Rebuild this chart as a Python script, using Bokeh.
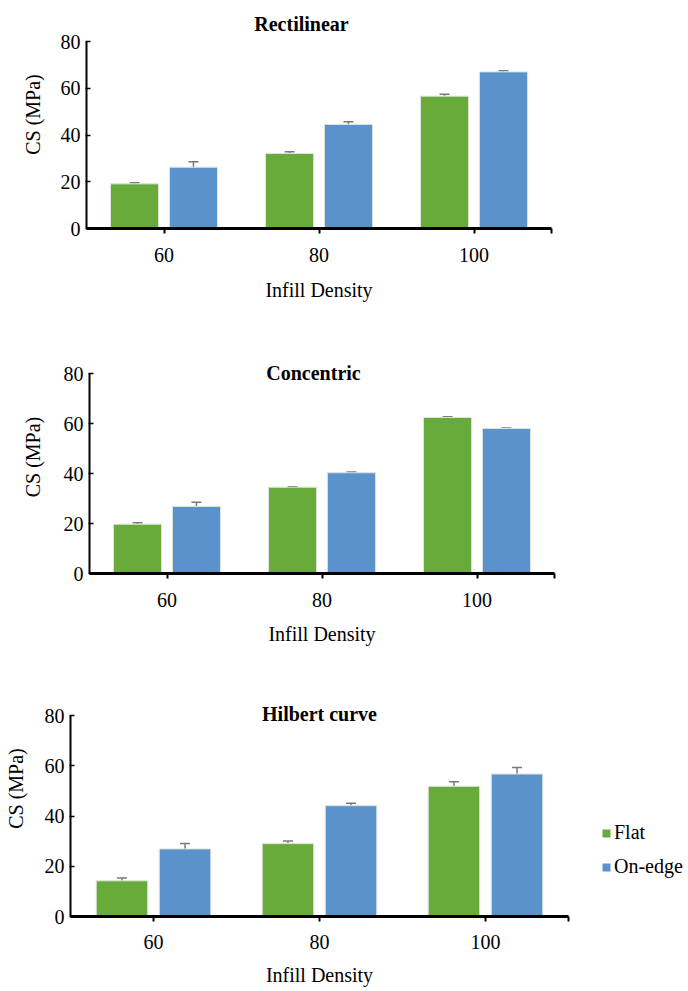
import numpy as np
from bokeh.plotting import figure
from bokeh.layouts import row
from bokeh.models import (ColumnDataSource, Whisker, TeeHead, Label, Legend,
                          LegendItem, FixedTicker, Range1d)
from bokeh.embed import file_html
from bokeh.resources import INLINE

categories = ["60", "80", "100"]
series_names = ["Flat", "On-edge"]
y_ticks = [0, 20, 40, 60, 80]

rect_flat = [19.1, 32.1, 56.6]
rect_flat_err = [0.5, 0.7, 0.8]
rect_edge = [26.2, 44.5, 67.0]
rect_edge_err = [2.4, 1.2, 0.5]

conc_flat = [19.7, 34.5, 62.4]
conc_flat_err = [0.6, 0.2, 0.3]
conc_edge = [26.8, 40.3, 58.0]
conc_edge_err = [1.7, 0.3, 0.2]

hilb_flat = [14.2, 29.0, 51.8]
hilb_flat_err = [1.1, 1.05, 1.85]
hilb_edge = [26.9, 44.1, 56.7]
hilb_edge_err = [2.2, 1.0, 2.65]

FONT = "Liberation Serif"
GREEN = "#69ab3b"
BLUE = "#5a93cc"
ERR = "#7a7a7a"
Y_MAX = 80


def panel(title, flat, flat_err, edge, edge_err, geo, title_pos, stand, width=672):
    # geo: figure height, frame-left px, frame-right px, px from top to zero line,
    #      px from top to the 80 line, bottom border
    height, left, right, zero_px, top_px, bottom = geo
    n = len(categories)
    centers = np.arange(n) + 0.5
    y_end = Y_MAX * zero_px / (zero_px - top_px)
    p = figure(width=width, height=height, output_backend="svg", toolbar_location=None,
               x_range=Range1d(0, n), y_range=Range1d(0, y_end),
               min_border_top=0, min_border_bottom=bottom, min_border_left=left,
               min_border_right=width - right)
    p.outline_line_color = None
    p.xgrid.visible = False
    p.ygrid.visible = False

    for vals, errs, off, col in ((flat, flat_err, -0.19, GREEN), (edge, edge_err, 0.19, BLUE)):
        v = np.array(vals)
        e = np.array(errs)
        src = ColumnDataSource(dict(x=centers + off, top=v, upper=v + e, lower=v - e))
        p.vbar(x="x", top="top", width=0.31, source=src, fill_color=col,
               line_color="#dde3da", line_width=1)
        w = Whisker(source=src, base="x", upper="upper", lower="lower",
                    line_color=ERR, line_width=1.5,
                    upper_head=TeeHead(size=10, line_color=ERR, line_width=1.5),
                    lower_head=TeeHead(size=10, line_color=ERR, line_width=1.5))
        p.add_layout(w)

    xs, xls, ys, yls = stand
    xa = p.xaxis[0]
    xa.ticker = FixedTicker(ticks=list(centers) + [float(n)])
    overrides = {float(c): lab for c, lab in zip(centers, categories)}
    overrides[float(n)] = ""
    xa.major_label_overrides = overrides
    xa.axis_label = "Infill Density"
    xa.minor_tick_line_color = None
    xa.major_tick_in = 0
    xa.major_tick_out = 5
    xa.axis_line_width = 3
    xa.major_tick_line_width = 2
    xa.major_label_standoff = xs
    xa.axis_label_standoff = xls

    ya = p.yaxis[0]
    ya.ticker = FixedTicker(ticks=y_ticks)
    ya.bounds = (0, Y_MAX)
    ya.axis_label = "CS (MPa)"
    ya.minor_tick_line_color = None
    ya.major_tick_in = 4
    ya.major_tick_out = 1
    ya.axis_line_width = 2
    ya.major_tick_line_width = 1.5
    ya.major_label_standoff = ys
    ya.axis_label_standoff = yls

    for ax in (xa, ya):
        ax.axis_line_color = "black"
        ax.major_tick_line_color = "black"
        ax.major_label_text_font = FONT
        ax.major_label_text_font_size = "20px"
        ax.major_label_text_color = "black"
        ax.axis_label_text_font = FONT
        ax.axis_label_text_font_size = "20px"
        ax.axis_label_text_font_style = "normal"
        ax.axis_label_text_color = "black"

    tx, ty = title_pos
    p.add_layout(Label(x=tx, y=ty, x_units="screen", y_units="screen", text=title,
                       text_font=FONT, text_font_size="20px", text_font_style="bold",
                       text_align="center", text_baseline="alphabetic",
                       text_color="black"))
    return p


p1 = panel("Rectilinear", rect_flat, rect_flat_err, rect_edge, rect_edge_err,
           (340, 86, 551, 228, 41, 112), (215, 205), (14, 14, 5, 14))
p2 = panel("Concentric", conc_flat, conc_flat_err, conc_edge, conc_edge_err,
           (320, 89, 554, 233, 33, 87), (224, 201), (14, 13, 5, 17))
p3 = panel("Hilbert curve", hilb_flat, hilb_flat_err, hilb_edge, hilb_edge_err,
           (331, 70, 568, 256, 55, 75), (249, 203), (13, 12, 5, 15), width=572)

# legend panel beside the third chart (its two bars sit outside its visible range)
lf = figure(width=114, height=331, output_backend="svg", toolbar_location=None,
            x_range=Range1d(0, 1), y_range=Range1d(0, 1),
            x_axis_location=None, y_axis_location=None,
            min_border_top=0, min_border_bottom=75, min_border_left=0, min_border_right=0)
lf.outline_line_color = None
lf.xgrid.visible = False
lf.ygrid.visible = False
r_flat = lf.vbar(x="x", top="top", bottom="bottom", width=0.1,
                 source=ColumnDataSource(dict(x=[5.0], top=[5.5], bottom=[5.0])),
                 fill_color=GREEN, line_color=None)
r_edge = lf.vbar(x="x", top="top", bottom="bottom", width=0.1,
                 source=ColumnDataSource(dict(x=[6.0], top=[5.5], bottom=[5.0])),
                 fill_color=BLUE, line_color=None)
lg = Legend(items=[LegendItem(label=series_names[0], renderers=[r_flat]),
                   LegendItem(label=series_names[1], renderers=[r_edge])],
            location=(29, 38), glyph_width=10, glyph_height=10,
            label_text_font=FONT, label_text_font_size="20px", label_text_color="black",
            label_standoff=3, spacing=11, padding=0, margin=0,
            border_line_color=None, background_fill_alpha=0)
lf.add_layout(lg)

open("out.html", "w").write(file_html([p1, p2, row(p3, lf, spacing=0)], INLINE))
